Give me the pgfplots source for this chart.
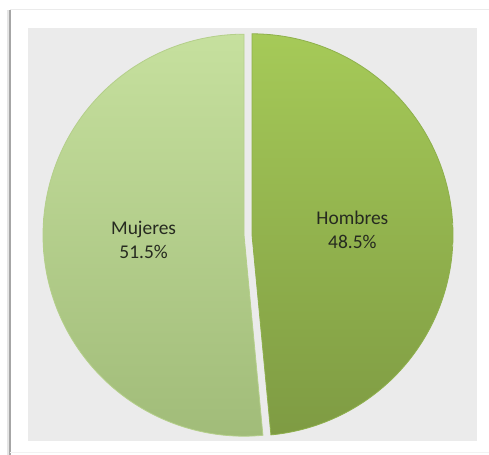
\documentclass[border=0pt]{standalone}
\usepackage{pgfplots}
\pgfplotsset{compat=1.18}
\usepackage{pgfplotstable}
\usepackage{fontspec}
\setmainfont{Carlito}
\definecolor{panel}{HTML}{EBEBEB}
\definecolor{mtop}{HTML}{C6E09E}
\definecolor{mbot}{HTML}{A1BC79}
\definecolor{htop}{HTML}{A6CA58}
\definecolor{hbot}{HTML}{7E9B43}
\definecolor{medge}{HTML}{B4CF8A}
\definecolor{hedge}{HTML}{8EB04C}
\definecolor{labeltext}{HTML}{262A20}
\pgfplotstableread{
label value
Hombres 48.5
Mujeres 51.5
}\piedata
\begin{document}
\begin{tikzpicture}
\pgfplotstablegetelem{0}{value}\of\piedata \let\vH\pgfplotsretval
\pgfplotstablegetelem{1}{value}\of\piedata \let\vM\pgfplotsretval
\pgfmathsetmacro\R{201}
\pgfmathsetmacro\cx{248}
\pgfmathsetmacro\cy{220}
\pgfmathsetmacro\ex{4}
\pgfmathsetmacro\hS{90-3.6*\vH}
\pgfmathsetmacro\hE{90}
\pgfmathsetmacro\hMid{(\hS+\hE)/2}
\pgfmathsetmacro\hx{\cx+\ex*cos(\hMid)}
\pgfmathsetmacro\hy{\cy+\ex*sin(\hMid)}
\pgfmathsetmacro\hLx{\hx+0.5*\R*cos(\hMid)}
\pgfmathsetmacro\hLy{\hy+0.5*\R*sin(\hMid)}
\pgfmathsetmacro\mS{90}
\pgfmathsetmacro\mE{90+3.6*\vM}
\pgfmathsetmacro\mMid{(\mS+\mE)/2}
\pgfmathsetmacro\mx{\cx+\ex*cos(\mMid)}
\pgfmathsetmacro\my{\cy+\ex*sin(\mMid)}
\pgfmathsetmacro\mLx{\mx+0.5*\R*cos(\mMid)}
\pgfmathsetmacro\mLy{\my+0.5*\R*sin(\mMid)}
\begin{axis}[x=1bp, y=1bp, scale only axis, xmin=0, xmax=489, ymin=0, ymax=455, hide axis]
% card background
\addplot[fill=white, draw=none] coordinates {(0,0) (489,0) (489,455) (0,455)} -- cycle;
\addplot[draw=black!8, line width=1bp] coordinates {(10,445) (489,445)};
\addplot[draw=black!10, line width=3bp] coordinates {(8,0) (8,445)};
\addplot[draw=black!35, line width=1.2bp] coordinates {(10,0) (10,445)};
\addplot[draw=black!5, line width=1bp] coordinates {(10,2.5) (489,2.5)};
% plot area panel
\addplot[fill=panel, draw=none] coordinates {(28,14) (477,14) (477,427) (28,427)} -- cycle;
% slices
\addplot[draw=hedge, line width=0.8bp, top color=htop, bottom color=hbot, domain=\hS:\hE, samples=181, variable=\t]
  ({\hx+\R*cos(\t)},{\hy+\R*sin(\t)}) -- (axis cs:\hx,\hy) -- cycle;
\addplot[draw=medge, line width=0.8bp, top color=mtop, bottom color=mbot, domain=\mS:\mE, samples=181, variable=\t]
  ({\mx+\R*cos(\t)},{\my+\R*sin(\t)}) -- (axis cs:\mx,\my) -- cycle;
% labels
\node[align=center, text=labeltext, font=\fontsize{19.5}{24.5}\selectfont] at (axis cs:\hLx,\hLy) {Hombres\\48.5\%};
\node[align=center, text=labeltext, font=\fontsize{19.5}{24.5}\selectfont] at (axis cs:\mLx,\mLy) {Mujeres\\51.5\%};
\end{axis}
\end{tikzpicture}
\end{document}
